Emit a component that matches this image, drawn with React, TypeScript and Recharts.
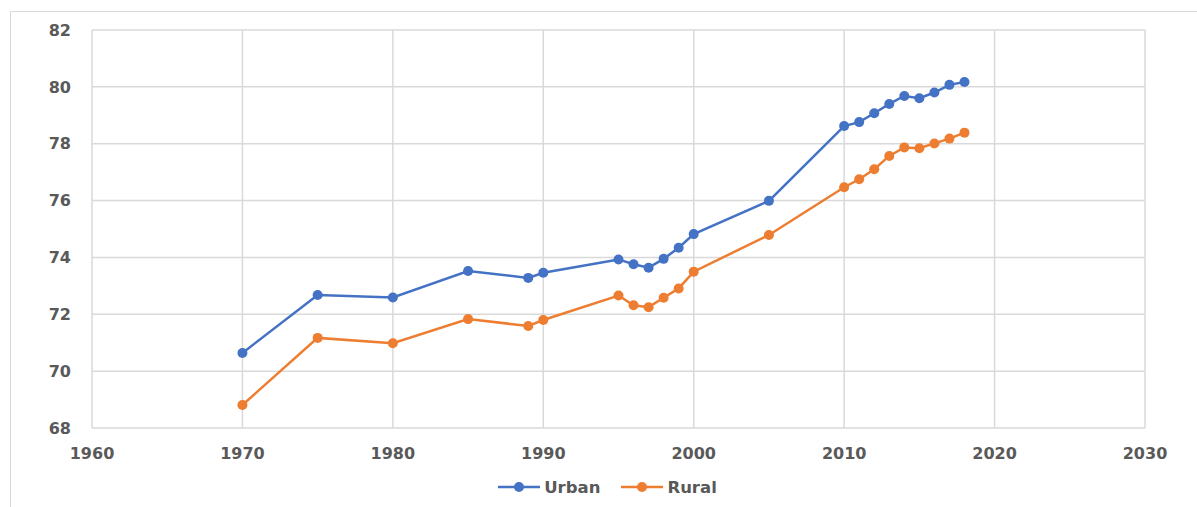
import { LineChart, Line, XAxis, YAxis, CartesianGrid, Legend } from "recharts";

const years = [1970, 1975, 1980, 1985, 1989, 1990, 1995, 1996, 1997, 1998, 1999, 2000, 2005, 2010, 2011, 2012, 2013, 2014, 2015, 2016, 2017, 2018];
const urban = [70.64, 72.68, 72.59, 73.52, 73.28, 73.46, 73.93, 73.76, 73.64, 73.95, 74.34, 74.82, 75.99, 78.62, 78.76, 79.07, 79.4, 79.68, 79.6, 79.8, 80.07, 80.17];
const rural = [68.81, 71.17, 70.98, 71.83, 71.59, 71.8, 72.66, 72.32, 72.25, 72.58, 72.91, 73.5, 74.79, 76.47, 76.75, 77.1, 77.57, 77.87, 77.84, 78.01, 78.18, 78.39];
const xTicks = [1960, 1970, 1980, 1990, 2000, 2010, 2020, 2030];
const yTicks = [68, 70, 72, 74, 76, 78, 80, 82];

const seriesInfo = [
  { key: "urban", name: "Urban", color: "#4472C4" },
  { key: "rural", name: "Rural", color: "#ED7D31" },
];

const rows = years.map((y, i) => ({ year: y, urban: urban[i], rural: rural[i] }));

const FONT = "'DejaVu Sans', Verdana, sans-serif";
const tickStyle = { fill: "#595959", fontSize: 16, fontWeight: 700, fontFamily: FONT };

function LegendBox() {
  return (
    <div style={{ height: 30, display: "flex", justifyContent: "center", alignItems: "center", fontFamily: FONT, fontWeight: 700, fontSize: 16.5, color: "#595959", paddingLeft: 70 }}>
      {seriesInfo.map((s, i) => (
        <div key={s.key} style={{ display: "flex", alignItems: "center", marginLeft: i ? 21 : 0 }}>
          <svg width={42} height={12} style={{ marginRight: 4 }}>
            <line x1={0} y1={6} x2={42} y2={6} stroke={s.color} strokeWidth={2.5} />
            <circle cx={21} cy={6} r={5} fill={s.color} />
          </svg>
          <span>{s.name}</span>
        </div>
      ))}
    </div>
  );
}

export default function App() {
  return (
    <div style={{ position: "absolute", left: 0, top: 0, width: 1197, height: 507, overflow: "hidden", background: "#fff" }}>
      <div style={{ position: "absolute", left: 10, top: 11, width: 1200, height: 510, border: "1px solid #d9d9d9" }} />
      <LineChart width={1197} height={507} data={rows} margin={{ top: 30, right: 52, bottom: 5, left: 0 }}>
        <CartesianGrid stroke="#d9d9d9" strokeWidth={1.5} />
        <XAxis
          dataKey="year"
          type="number"
          domain={[1960, 2030]}
          ticks={xTicks}
          axisLine={false}
          tickLine={false}
          tickMargin={14}
          height={44}
          tick={tickStyle}
        />
        <YAxis
          type="number"
          domain={[68, 82]}
          ticks={yTicks}
          axisLine={false}
          tickLine={false}
          tickMargin={15}
          width={92}
          tick={tickStyle}
        />
        <Legend verticalAlign="bottom" content={() => <LegendBox />} />
        {seriesInfo.map((s) => (
          <Line
            key={s.key}
            dataKey={s.key}
            name={s.name}
            stroke={s.color}
            strokeWidth={2.5}
            dot={{ r: 5, fill: s.color, stroke: s.color, strokeWidth: 0 }}
            activeDot={false}
            isAnimationActive={false}
          />
        ))}
      </LineChart>
    </div>
  );
}
